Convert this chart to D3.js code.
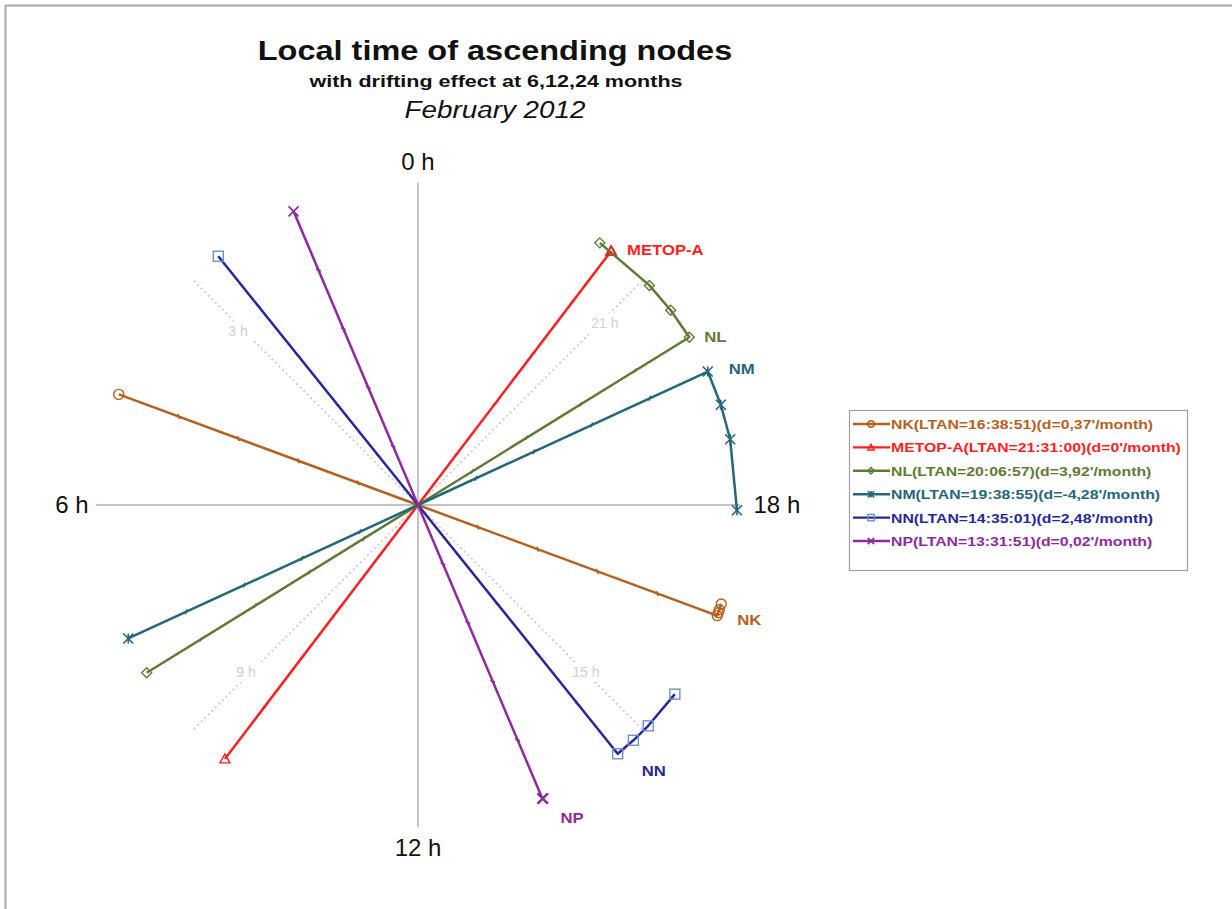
<!DOCTYPE html>
<html>
<head>
<meta charset="utf-8">
<script src="https://cdn.jsdelivr.net/npm/d3@7"></script>
<style>
  html, body { margin: 0; padding: 0; background: #fff; }
  svg { display: block; font-family: Arial, "Liberation Sans", sans-serif; }
</style>
</head>
<body>
<svg id="chart" width="1232" height="909"></svg>
<script>
// ---------- DATA ----------
const satellites = ["NK", "METOP-A", "NL", "NM", "NN", "NP"];
const ltan = ["16:38:51", "21:31:00", "20:06:57", "19:38:55", "14:35:01", "13:31:51"];
const driftMinPerMonth = [0.37, 0, 3.92, -4.28, 2.48, 0.02];
const legendLabels = [
  "NK(LTAN=16:38:51)(d=0,37'/month)",
  "METOP-A(LTAN=21:31:00)(d=0'/month)",
  "NL(LTAN=20:06:57)(d=3,92'/month)",
  "NM(LTAN=19:38:55)(d=-4,28'/month)",
  "NN(LTAN=14:35:01)(d=2,48'/month)",
  "NP(LTAN=13:31:51)(d=0,02'/month)"
];
const driftMonths = [6, 12, 24];
const mainHours = [0, 6, 12, 18];
const mainHourLabels = ["0 h", "6 h", "12 h", "18 h"];
const minorHours = [3, 9, 15, 21];
const minorHourLabels = ["3 h", "9 h", "15 h", "21 h"];
const alongFractions = [0.2, 0.4, 0.6, 0.8];

// ---------- STYLES ----------
const colors = ["#b5601f", "#ff1f1f", "#5f7a34", "#23677a", "#27279a", "#8e2a9e"];
const markerStroke = ["#b5601f", "#ff1f1f", "#5f7a34", "#23677a", "#6a8fd0", "#8e2a9e"];
const markerTypes = ["circle", "triangle", "diamond", "star", "square", "cross"];
const labelOffsets = [[20, 9], [16, 4], [15, 5], [21, 2], [24, 22], [18, 24]];
const minorLabelShift = [[-4, 2], [4, -9], [-8, -9], [11, -6]];

const svg = d3.select("#chart");
const cx = 418, cy = 505;

const hourToAngle = d3.scaleLinear().domain([0, 24]).range([0, 2 * Math.PI]);
const rScale = d3.scaleLinear().domain([0, 1]).range([0, 319]);

function toXY(h, r) {
  const a = hourToAngle(h);
  return [cx - rScale(r) * Math.sin(a), cy - rScale(r) * Math.cos(a)];
}
function parseHMS(s) {
  const p = s.split(":").map(Number);
  return p[0] + p[1] / 60 + p[2] / 3600;
}
function stretch(sel, f) {
  const w = sel.node().getComputedTextLength();
  sel.attr("textLength", w * f).attr("lengthAdjust", "spacingAndGlyphs");
  return sel;
}

// frame border
svg.append("line").attr("x1", 5).attr("y1", 5.5).attr("x2", 1232).attr("y2", 5.5)
  .attr("stroke", "#a8a8a8").attr("stroke-width", 2);
svg.append("line").attr("x1", 5.5).attr("y1", 5).attr("x2", 5.5).attr("y2", 909)
  .attr("stroke", "#a8a8a8").attr("stroke-width", 2);

// titles
stretch(svg.append("text").attr("x", 495).attr("y", 60).attr("text-anchor", "middle")
  .attr("font-size", 27).attr("font-weight", "bold").attr("fill", "#111")
  .text("Local time of ascending nodes"), 475 / 395);
stretch(svg.append("text").attr("x", 496).attr("y", 87).attr("text-anchor", "middle")
  .attr("font-size", 16.5).attr("font-weight", "bold").attr("fill", "#111")
  .text("with drifting effect at 6,12,24 months"), 373 / 286);
stretch(svg.append("text").attr("x", 495).attr("y", 118).attr("text-anchor", "middle")
  .attr("font-size", 23).attr("font-style", "italic").attr("fill", "#111")
  .text("February 2012"), 179 / 148);

// minor dotted hour lines
const gMinor = svg.append("g");
minorHours.forEach((h, i) => {
  const [x1, y1] = toXY(h, 0);
  const [x2, y2] = toXY(h, 1.0);
  gMinor.append("line").attr("x1", x1).attr("y1", y1).attr("x2", x2).attr("y2", y2)
    .attr("stroke", "#c8c8c8").attr("stroke-width", 1.6).attr("stroke-dasharray", "2,3");
});
// main axes
mainHours.forEach(h => {
  const [x1, y1] = toXY(h, 0);
  const [x2, y2] = toXY(h, 1.01);
  svg.append("line").attr("x1", x1).attr("y1", y1).attr("x2", x2).attr("y2", y2)
    .attr("stroke", "#c4c4c4").attr("stroke-width", 2);
});
// minor labels with white background
minorHours.forEach((h, i) => {
  const [x0, y0] = toXY(h, 0.78);
  const x = x0 + minorLabelShift[i][0], y = y0 + minorLabelShift[i][1];
  gMinor.append("rect").attr("x", x - 16).attr("y", y - 10).attr("width", 32).attr("height", 20)
    .attr("fill", "#fff");
  gMinor.append("text").attr("x", x).attr("y", y + 5).attr("text-anchor", "middle")
    .attr("font-size", 14).attr("fill", "#cfcfcf").text(minorHourLabels[i]);
});
// main labels
const mainLabelR = [1.075, 1.085, 1.075, 1.125];
mainHours.forEach((h, i) => {
  const [x, y] = toXY(h, mainLabelR[i]);
  svg.append("text").attr("x", x).attr("y", y + 8).attr("text-anchor", "middle")
    .attr("font-size", 24).attr("fill", "#111").text(mainHourLabels[i]);
});

// marker drawing
function drawMarker(g, type, x, y, s, stroke) {
  const sw = 1.4;
  if (type === "circle") {
    g.append("circle").attr("cx", x).attr("cy", y).attr("r", s).attr("fill", "none")
      .attr("stroke", stroke).attr("stroke-width", sw);
  } else if (type === "triangle") {
    g.append("path").attr("d", `M${x},${y - s} L${x + s},${y + s * 0.8} L${x - s},${y + s * 0.8} Z`)
      .attr("fill", "none").attr("stroke", stroke).attr("stroke-width", sw);
  } else if (type === "diamond") {
    g.append("path").attr("d", `M${x},${y - s} L${x + s},${y} L${x},${y + s} L${x - s},${y} Z`)
      .attr("fill", "none").attr("stroke", stroke).attr("stroke-width", sw);
  } else if (type === "square") {
    g.append("rect").attr("x", x - s).attr("y", y - s).attr("width", 2 * s).attr("height", 2 * s)
      .attr("fill", "none").attr("stroke", stroke).attr("stroke-width", sw);
  } else if (type === "cross") {
    g.append("path").attr("d", `M${x - s},${y - s} L${x + s},${y + s} M${x - s},${y + s} L${x + s},${y - s}`)
      .attr("fill", "none").attr("stroke", stroke).attr("stroke-width", 1.7);
  } else if (type === "star") {
    g.append("path").attr("d", `M${x - s},${y - s} L${x + s},${y + s} M${x - s},${y + s} L${x + s},${y - s} M${x},${y - s} L${x},${y + s}`)
      .attr("fill", "none").attr("stroke", stroke).attr("stroke-width", 1.6);
  }
}

// series
const line = d3.line();
const gSeries = svg.append("g");
satellites.forEach((name, i) => {
  const h0 = parseHMS(ltan[i]);
  const drift = driftMinPerMonth[i];
  const pts = [];
  pts.push(toXY(h0 - 12, 1));
  pts.push(toXY(h0, 0));
  pts.push(toXY(h0, 1));
  const driftPts = driftMonths.map(m => toXY(h0 + drift * m / 60, 1));
  const all = pts.concat(driftPts);
  const g = gSeries.append("g");
  g.append("path").attr("d", line(all)).attr("fill", "none")
    .attr("stroke", colors[i]).attr("stroke-width", 2.5).attr("stroke-linejoin", "round");
  // small intermediate tick markers along the diameter
  alongFractions.forEach(f => {
    [h0 - 12, h0].forEach(hh => {
      const [x, y] = toXY(hh, f);
      const a = hourToAngle(hh);
      const nx = Math.cos(a), ny = -Math.sin(a);
      g.append("line").attr("x1", x - nx * 2.5).attr("y1", y + ny * 2.5)
        .attr("x2", x + nx * 2.5).attr("y2", y - ny * 2.5)
        .attr("stroke", colors[i]).attr("stroke-width", 1.8);
    });
  });
  // end markers
  [pts[0], pts[2]].concat(driftPts).forEach(p => drawMarker(g, markerTypes[i], p[0], p[1], 5, markerStroke[i]));
  // label
  stretch(g.append("text").attr("x", pts[2][0] + labelOffsets[i][0]).attr("y", pts[2][1] + labelOffsets[i][1])
    .attr("font-size", 14.5).attr("font-weight", "bold").attr("fill", colors[i]).text(name), 1.15);
});

// legend
const lg = svg.append("g");
lg.append("rect").attr("x", 849.5).attr("y", 410.5).attr("width", 338).attr("height", 160)
  .attr("fill", "#fff").attr("stroke", "#a0a0a0").attr("stroke-width", 1.2);
const legendY = d3.scaleLinear().domain([0, 5]).range([424, 541]);
satellites.forEach((name, i) => {
  const y = legendY(i);
  lg.append("line").attr("x1", 853).attr("y1", y).attr("x2", 890).attr("y2", y)
    .attr("stroke", colors[i]).attr("stroke-width", 2.4);
  drawMarker(lg, markerTypes[i], 871, y, 3.2, markerStroke[i]);
  stretch(lg.append("text").attr("x", 891).attr("y", y + 5).attr("font-size", 13.5)
    .attr("font-weight", "bold").attr("fill", colors[i]).text(legendLabels[i]), 1.17);
});
</script>
</body>
</html>
